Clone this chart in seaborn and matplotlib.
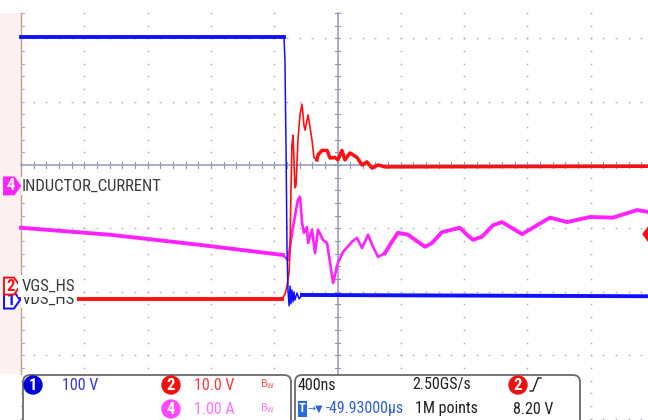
import matplotlib
matplotlib.use("Agg")
import numpy as np
import pandas as pd
import matplotlib.pyplot as plt
import seaborn as sns
from matplotlib import font_manager as fm
from matplotlib.patches import Polygon, FancyBboxPatch, Circle

# ---------------- data (time in ns relative to trigger) ----------------
time_ns_vds = [-2000, -338, -332, -329, -325, -319, -313, -306, -300, -294,
               -288, -281, -275, -269, -256, -243, -224, 1962]
vds_volts = [415, 415, 378, 315, 237, 79, 16, -9, 22, -6,
             16, -3, 13, 0, 11, 2, 8, 6]

time_ns_vgs = [-2000, -351, -332, -319, -306, -300, -294, -288, -281, -275,
               -269, -262, -250, -237, -224, -212, -205, -186, -174, -161,
               -149, -130, -123, -98, -66, -47, -16, 3, 28, 47,
               79, 123, 155, 186, 218, 256, 300, 1962]
vgs_volts = [-2.0, -2.0, -1.3, 0.0, 2.2, 5.7, 15.1, 22.2, 23.8, 19.9,
             15.5, 15.9, 23.0, 27.0, 28.7, 25.4, 24.6, 27.0, 25.1, 23.0,
             20.3, 19.9, 20.7, 21.4, 21.4, 20.2, 20.3, 19.9, 21.4, 19.9,
             21.0, 20.3, 19.1, 19.6, 18.6, 19.1, 18.8, 18.9]

time_ns_il = [-2000, -1438, -869, -344, -313, -281, -262, -250, -237, -224,
              -212, -193, -186, -161, -142, -123, -92, -66, -47, -28,
              3, 35, 92, 123, 155, 193, 224, 256, 300, 344,
              382, 446, 490, 553, 597, 660, 724, 774, 818, 856,
              913, 983, 1040, 1166, 1343, 1450, 1596, 1741, 1893, 1962]
il_amps = [-0.66, -0.77, -0.93, -1.09, -1.17, -0.65, -0.38, -0.22, -0.17, -0.58,
           -0.74, -0.65, -0.90, -0.69, -1.06, -0.69, -0.85, -0.90, -1.21, -1.53,
           -1.21, -1.04, -0.88, -0.82, -0.98, -0.77, -0.96, -1.12, -1.06, -0.88,
           -0.74, -0.77, -0.85, -0.96, -0.90, -0.73, -0.69, -0.66, -0.77, -0.85,
           -0.80, -0.62, -0.57, -0.76, -0.50, -0.57, -0.49, -0.50, -0.38, -0.41]

channel_names = ["VDS_HS", "VGS_HS", "INDUCTOR_CURRENT"]
channel_scales = ["100 V", "10.0 V", "1.00 A"]
timebase_text = "400ns"
sample_rate_text = "2.50GS/s"
record_text = "1M points"
trigger_pos_text = "-49.93000\u03bcs"
trigger_level = 8.20
trigger_level_text = "8.20 V"

# ---------------- font choice (narrow face if available) ----------------
_fonts = fm.fontManager.ttflist
_names = {f.name for f in _fonts}
FSCALE = 1.0
STRETCH = "normal"
if "Liberation Sans Narrow" in _names:
    FAM = "Liberation Sans Narrow"
elif "Roboto Condensed" in _names:
    FAM = "Roboto Condensed"
elif any(f.name == "DejaVu Sans" and str(f.stretch) in ("condensed", "semi-condensed")
         for f in _fonts):
    FAM, STRETCH = "DejaVu Sans", "condensed"
else:
    FAM, FSCALE = "Liberation Sans", 0.9
FONT = [FAM, "DejaVu Sans"]
TXT = dict(family=FONT, stretch=STRETCH)

# ---------------- scope settings ----------------
TDIV = 400.0
CH1_SCALE, CH1_POS = 100.0, -2.13
CH2_SCALE, CH2_POS = 10.0, -1.91
CH4_SCALE, CH4_POS = 1.0, -0.33

PXX, PXY = 63.3, 63.4   # pixels per division
X0, Y0 = 337.5, 165.0   # screen centre in pixels
W, H = 648, 420

BLUE = "#1010ff"
RED = "#ff1010"
MAG = "#ff22ff"
DOT = "#a9adc9"
CLINE = "#9297b6"

fig = plt.figure(figsize=(W / 100, H / 100), dpi=100)
fig.patch.set_facecolor("white")
ax = fig.add_axes([0, 0, 1, 1])
ax.axis("off")

xl = (-X0 / PXX, (W - X0) / PXX)
yl = ((Y0 - H) / PXY, Y0 / PXY)

def dx(px):
    return (px - X0) / PXX

def dy(py):
    return (Y0 - py) / PXY

# ---------------- graticule ----------------
top = 2.4
ax.fill_between([xl[0], -5], [dy(374)] * 2, [top] * 2, color="#fdf1f1", lw=0, zorder=0)
ax.plot([-5, -5], [top, dy(374)], color="#c79d78", lw=1.0, zorder=1)
ys = np.arange(top, yl[0] - 0.01, -0.2)
for xv in [-4, -3, -2, -1, 1, 2, 3, 4]:
    ax.plot(np.full_like(ys, xv), ys, ls="none", marker="s", ms=1.1, mew=0, color=DOT, zorder=1)
xs = np.arange(-5, xl[1], 0.2)
for yv in [2, 1, -1, -2, -3, -4]:
    ax.plot(xs, np.full_like(xs, yv), ls="none", marker="s", ms=1.1, mew=0, color=DOT, zorder=1)
ax.plot([0, 0], [top, yl[0]], color=CLINE, lw=1.1, zorder=1)
ax.plot([-5, xl[1]], [0, 0], color=CLINE, lw=1.1, zorder=1)
tk = 0.04
for yv in ys:
    ax.plot([-tk, tk], [yv, yv], color=CLINE, lw=0.8, zorder=1)
    ax.plot([-5, -5 + tk], [yv, yv], color=DOT, lw=0.8, zorder=1)
for xv in xs:
    ax.plot([xv, xv], [-tk, tk], color=CLINE, lw=0.8, zorder=1)

# ---------------- traces ----------------
def trace(t, v, scale, pos, color, lw, z, sl=slice(None)):
    df = pd.DataFrame({"x": np.asarray(t, float)[sl] / TDIV,
                       "y": np.asarray(v, float)[sl] / scale + pos})
    sns.lineplot(data=df, x="x", y="y", ax=ax, color=color, lw=lw,
                 estimator=None, sort=False, zorder=z, legend=False)

trace(time_ns_il, il_amps, CH4_SCALE, CH4_POS, MAG, 1.9, 3, slice(3, 30))
trace(time_ns_il, il_amps, CH4_SCALE, CH4_POS, MAG, 2.8, 3, slice(0, 4))
trace(time_ns_il, il_amps, CH4_SCALE, CH4_POS, MAG, 2.8, 3, slice(28, 50))
trace(time_ns_vgs, vgs_volts, CH2_SCALE, CH2_POS, RED, 1.2, 4)
trace(time_ns_vgs, vgs_volts, CH2_SCALE, CH2_POS, RED, 2.8, 4, slice(0, 2))
trace(time_ns_vgs, vgs_volts, CH2_SCALE, CH2_POS, RED, 2.5, 4, slice(21, 38))
trace(time_ns_vds, vds_volts, CH1_SCALE, CH1_POS, BLUE, 1.1, 5)
trace(time_ns_vds, vds_volts, CH1_SCALE, CH1_POS, BLUE, 2.8, 5, slice(0, 2))
trace(time_ns_vds, vds_volts, CH1_SCALE, CH1_POS, BLUE, 2.8, 5, slice(16, 18))

# ---------------- channel tags and labels ----------------
def tag(pos, face, edge, txt, tcol, z):
    hh = 8.5 / PXY
    pts = [(dx(4), pos + hh), (dx(14), pos + hh), (dx(20), pos),
           (dx(14), pos - hh), (dx(4), pos - hh)]
    ax.add_patch(Polygon(pts, closed=True, fc=face, ec=edge, lw=1.4, zorder=z))
    ax.text(dx(11), pos, txt, color=tcol, ha="center", va="center",
            fontsize=12 * FSCALE, fontweight="bold", zorder=z + 0.1, **TXT)

tag(CH1_POS, "white", BLUE, "1", BLUE, 7)
tag(CH2_POS, "white", RED, "2", RED, 8)
tag(CH4_POS, MAG, MAG, "4", "white", 8)

lab_kw = dict(color="#3a3a3a", fontsize=12 * FSCALE, ha="left", va="center", **TXT)
ax.text(dx(22), dy(299.5), channel_names[0], zorder=7,
        bbox=dict(fc="white", ec="none", pad=1.0), **lab_kw)
ax.text(dx(22), dy(286), channel_names[1], zorder=8,
        bbox=dict(fc="white", ec="none", pad=2.6), **lab_kw)
ax.text(dx(22), CH4_POS, channel_names[2], zorder=8,
        bbox=dict(fc="white", ec="none", pad=1.0), **lab_kw)

# trigger level diamond at right edge
tl = trigger_level / CH2_SCALE + CH2_POS
ax.add_patch(Polygon([(dx(649) - 6 / PXX, tl), (dx(649), tl + 8 / PXY),
                      (dx(649) + 6 / PXX, tl), (dx(649), tl - 8 / PXY)],
                     closed=True, fc=RED, ec=RED, zorder=8))

ax.set_xlim(*xl)
ax.set_ylim(*yl)

# ---------------- info panel (pixel overlay) ----------------
ov = fig.add_axes([0, 0, 1, 1], zorder=5)
ov.set_xlim(0, W)
ov.set_ylim(H, 0)
ov.axis("off")
ov.patch.set_alpha(0)

for x0, x1 in [(23, 291), (295, 580)]:
    ov.add_patch(FancyBboxPatch((x0, 375), x1 - x0, 60,
                                boxstyle="round,pad=0,rounding_size=7",
                                fc="white", ec="#6a6a6a", lw=1.3))

def badge(x, y, txt, col):
    ov.add_patch(Circle((x, y), 9, fc=col, ec=col))
    ov.text(x, y + 0.5, txt, color="white", ha="center", va="center",
            fontsize=12 * FSCALE, fontweight="bold", **TXT)

r1, r2 = 385, 409
fs = 11.5 * FSCALE
badge(33, r1, "1", "#0000d8")
ov.text(62, r1, channel_scales[0], color="#3535e0", fontsize=fs, va="center", **TXT)
badge(171, r1, "2", "#f01010")
ov.text(194, r1, channel_scales[1], color="#ff3a3a", fontsize=fs, va="center", **TXT)
ov.text(260, r1 - 1, r"$\mathregular{B_W}$", color="#ff5050", fontsize=7, va="center")
badge(171, r2, "4", "#ff48ff")
ov.text(194, r2, channel_scales[2], color="#ff70ff", fontsize=fs, va="center", **TXT)
ov.text(260, r2 - 1, r"$\mathregular{B_W}$", color="#ff70ff", fontsize=7, va="center")

ov.text(298, r1, timebase_text, color="#202020", fontsize=fs, va="center", **TXT)
ov.text(412, r1, sample_rate_text, color="#202020", fontsize=fs, va="center", **TXT)
badge(518, r1, "2", "#f01010")
ov.plot([530, 533, 538, 541], [391, 391, 378, 378], color="#202020", lw=1.0)
ov.text(299, r2, "T", color="white", fontsize=9 * FSCALE, fontweight="bold",
        va="center", bbox=dict(fc="#2a6ae0", ec="none", pad=0.8), **TXT)
ov.text(307, r2, "\u2192\u25bc", color="#2f60e0", fontsize=7,
        va="center", family="DejaVu Sans")
ov.text(326, r2, trigger_pos_text, color="#2f60e0", fontsize=fs,
        va="center", **TXT)
ov.text(415, r2, record_text, color="#202020", fontsize=fs, va="center", **TXT)
ov.text(513, r2, trigger_level_text, color="#202020", fontsize=fs, va="center", **TXT)

fig.savefig("out.png", dpi=100, facecolor="white")
